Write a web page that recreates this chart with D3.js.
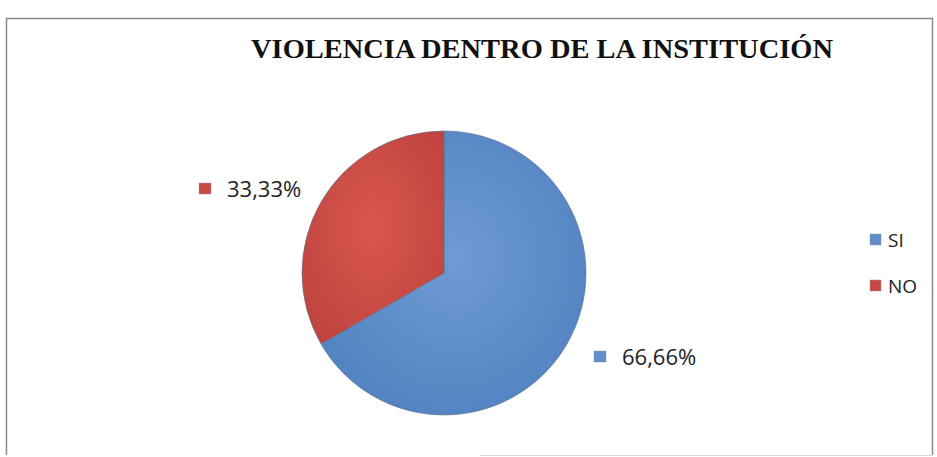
<!DOCTYPE html>
<html><head><meta charset="utf-8">
<script src="https://cdn.jsdelivr.net/npm/d3@7"></script>
<style>body{margin:0;background:#fff;}svg{display:block;}</style>
</head><body>
<script>
const categories = ["SI", "NO"];
const values = [66.66, 33.33];
const labels = ["66,66%", "33,33%"];
const title = "VIOLENCIA DENTRO DE LA INSTITUCIÓN";

const W = 937, H = 457;
const svg = d3.select("body").append("svg").attr("width", W).attr("height", H);
svg.append("rect").attr("width", W).attr("height", H).attr("fill", "#fff");

const defs = svg.append("defs");
const palette = {SI: ["#6f9bd4", "#4f80bf"], NO: ["#d9564f", "#bf433e"]};
categories.forEach(c => {
  const g = defs.append("radialGradient").attr("id", "g" + c).attr("cx", "50%").attr("cy", "45%").attr("r", "65%");
  g.append("stop").attr("offset", "0%").attr("stop-color", palette[c][0]);
  g.append("stop").attr("offset", "100%").attr("stop-color", palette[c][1]);
});

// frame
svg.append("path").attr("d", "M6.5,455 V18.5 H932.5 V455")
  .attr("fill", "none").attr("stroke", "#8a8a8a").attr("stroke-width", 1.5);
svg.append("line").attr("x1", 480).attr("x2", 932).attr("y1", 455.5).attr("y2", 455.5)
  .attr("stroke", "#d8d8d8").attr("stroke-width", 1);

svg.append("text").attr("x", 542).attr("y", 58).attr("text-anchor", "middle")
  .attr("font-family", "Liberation Serif, Times New Roman, serif").attr("font-weight", "bold")
  .attr("font-size", 27).attr("textLength", 582).attr("lengthAdjust", "spacingAndGlyphs")
  .attr("fill", "#111").text(title);

const cx = 444, cy = 273, r = 142;
const pie = d3.pie().sort(null).value(d => d.v);
const data = pie(categories.map((c, i) => ({c, v: values[i], l: labels[i]})));
const arc = d3.arc().innerRadius(0).outerRadius(r);
const gp = svg.append("g").attr("transform", `translate(${cx},${cy})`);
gp.selectAll("path").data(data).join("path").attr("d", arc)
  .attr("fill", d => `url(#g${d.data.c})`).attr("stroke", "#5a6f8a").attr("stroke-width", 0.6);

// data labels
const labelPos = {SI: [594, 357], NO: [199, 189]};
const fill = {SI: "#5f8ccb", NO: "#c94842"};
data.forEach(d => {
  const [x, y] = labelPos[d.data.c];
  svg.append("rect").attr("x", x).attr("y", y - 6).attr("width", 12).attr("height", 11)
    .attr("fill", fill[d.data.c]).attr("stroke", "#999").attr("stroke-width", 0.5);
  svg.append("text").attr("x", x + 28).attr("y", y + 8)
    .attr("font-family", "Open Sans, Liberation Sans, sans-serif").attr("font-size", 22)
    .attr("fill", "#222").text(d.data.l);
});

// legend
const lg = svg.append("g");
categories.forEach((c, i) => {
  const y = 240 + i * 46;
  lg.append("rect").attr("x", 870).attr("y", y - 6).attr("width", 11).attr("height", 11)
    .attr("fill", fill[c]).attr("stroke", "#999").attr("stroke-width", 0.5);
  lg.append("text").attr("x", 888).attr("y", y + 7)
    .attr("font-family", "Open Sans, Liberation Sans, sans-serif").attr("font-size", 19)
    .attr("fill", "#222").text(c);
});
</script>
</body></html>
